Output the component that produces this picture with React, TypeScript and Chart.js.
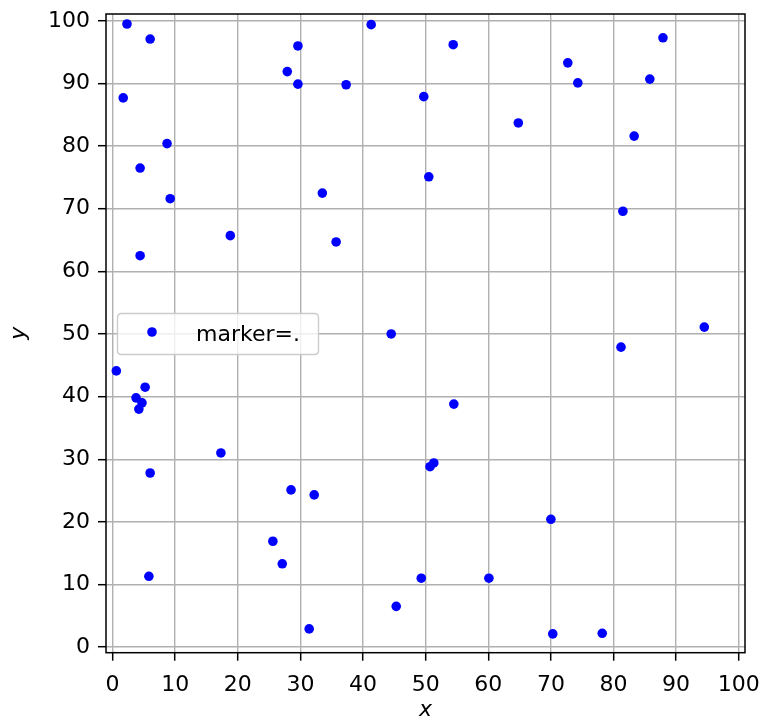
import React, { useEffect, useRef } from "react";
import { Chart, registerables } from "chart.js";

Chart.register(...registerables);

const xValues: number[] = [
  2.3, 6.0, 1.7, 8.7, 4.4, 9.2, 4.4, 18.8, 27.9, 29.6,
  29.6, 37.3, 41.3, 33.5, 35.7, 49.7, 54.4, 50.5, 64.8, 72.7,
  74.3, 87.9, 85.8, 83.3, 81.5, 94.5, 81.2, 44.5, 54.5, 0.6,
  5.2, 3.75, 4.7, 4.2, 6.0, 17.3, 28.5, 32.2, 50.7, 51.3,
  25.6, 27.1, 5.8, 31.4, 45.3, 49.3, 60.1, 70.0, 70.3, 78.2,
];
const yValues: number[] = [
  99.5, 97.1, 87.7, 80.4, 76.5, 71.6, 62.5, 65.7, 91.9, 96.0,
  89.9, 89.8, 99.4, 72.5, 64.7, 87.9, 96.2, 75.1, 83.7, 93.3,
  90.1, 97.3, 90.7, 81.6, 69.6, 51.1, 47.9, 50.0, 38.8, 44.1,
  41.5, 39.8, 39.0, 38.0, 27.8, 31.0, 25.1, 24.3, 28.8, 29.4,
  16.9, 13.3, 11.3, 2.9, 6.5, 11.0, 11.0, 20.4, 2.1, 2.2,
];
const tickValues: number[] = [0, 10, 20, 30, 40, 50, 60, 70, 80, 90, 100];
const seriesLabel = "marker=.";
const xTitle = "x";
const yTitle = "y";

const FONT = "'DejaVu Sans', sans-serif";

export default function App() {
  const ref = useRef<HTMLCanvasElement | null>(null);

  useEffect(() => {
    document.body.style.margin = "0";
    const canvas = ref.current;
    if (!canvas) return;

    const framePlugin = {
      id: "frameAndLegend",
      afterDatasetsDraw(chart: any) {
        const { ctx, chartArea } = chart;
        ctx.save();
        ctx.strokeStyle = "#000";
        ctx.lineWidth = 1.5;
        ctx.strokeRect(
          chartArea.left,
          chartArea.top,
          chartArea.right - chartArea.left,
          chartArea.bottom - chartArea.top
        );
        // legend
        const lx = 117.5, ly = 313.5, lw = 201, lh = 41, r = 4;
        ctx.beginPath();
        ctx.moveTo(lx + r, ly);
        ctx.lineTo(lx + lw - r, ly);
        ctx.quadraticCurveTo(lx + lw, ly, lx + lw, ly + r);
        ctx.lineTo(lx + lw, ly + lh - r);
        ctx.quadraticCurveTo(lx + lw, ly + lh, lx + lw - r, ly + lh);
        ctx.lineTo(lx + r, ly + lh);
        ctx.quadraticCurveTo(lx, ly + lh, lx, ly + lh - r);
        ctx.lineTo(lx, ly + r);
        ctx.quadraticCurveTo(lx, ly, lx + r, ly);
        ctx.closePath();
        ctx.fillStyle = "rgba(255,255,255,0.8)";
        ctx.fill();
        ctx.strokeStyle = "#cccccc";
        ctx.lineWidth = 1.4;
        ctx.stroke();
        ctx.beginPath();
        ctx.arc(152, 332, 4.8, 0, Math.PI * 2);
        ctx.fillStyle = "#0000ff";
        ctx.fill();
        ctx.fillStyle = "#000";
        ctx.font = `22px ${FONT}`;
        ctx.textBaseline = "alphabetic";
        ctx.textAlign = "left";
        ctx.fillText(seriesLabel, 196, 341);
        ctx.restore();
      },
    };

    const zeroPad = (scale: any) => {
      scale.paddingTop = 0;
      scale.paddingBottom = 0;
      scale.paddingLeft = 0;
      scale.paddingRight = 0;
    };

    const chart = new Chart(canvas, {
      type: "scatter",
      data: {
        datasets: [
          {
            label: seriesLabel,
            data: xValues.map((x, i) => ({ x, y: yValues[i] })),
            backgroundColor: "#0000ff",
            borderColor: "#0000ff",
            borderWidth: 0,
            pointRadius: 4.8,
            pointHoverRadius: 4.8,
          },
        ],
      },
      options: {
        responsive: false,
        animation: false,
        devicePixelRatio: 1,
        layout: { padding: { top: 14, right: 17, left: 0, bottom: 0 } },
        plugins: {
          legend: { display: false },
          tooltip: { enabled: false },
        },
        scales: {
          x: {
            type: "linear",
            min: -1.05,
            max: 101.0,
            afterBuildTicks: (scale: any) => {
              scale.ticks = tickValues.map((v) => ({ value: v }));
            },
            afterFit: (scale: any) => {
              scale.height = 70.3;
              zeroPad(scale);
            },
            border: { display: false },
            grid: {
              color: "#b0b0b0",
              lineWidth: 1.4,
              tickColor: "#000",
              tickLength: 8,
              tickWidth: 1.5,
            },
            ticks: {
              color: "#000",
              font: { family: FONT, size: 22 },
              padding: 11,
              maxRotation: 0,
              autoSkip: false,
            },
            title: {
              display: true,
              text: xTitle,
              color: "#000",
              font: { family: FONT, size: 22, style: "italic" },
              padding: { top: 0, bottom: 0 },
            },
          },
          y: {
            type: "linear",
            min: -0.9,
            max: 101.1,
            afterBuildTicks: (scale: any) => {
              scale.ticks = tickValues.map((v) => ({ value: v }));
            },
            afterFit: (scale: any) => {
              scale.width = 106;
              zeroPad(scale);
            },
            border: { display: false },
            grid: {
              color: "#b0b0b0",
              lineWidth: 1.4,
              tickColor: "#000",
              tickLength: 8,
              tickWidth: 1.5,
            },
            ticks: {
              color: "#000",
              font: { family: FONT, size: 22 },
              padding: 8,
              autoSkip: false,
            },
            title: {
              display: true,
              text: yTitle,
              color: "#000",
              font: { family: FONT, size: 22, style: "italic" },
              padding: { top: 6, bottom: 0 },
            },
          },
        },
      },
      plugins: [framePlugin],
    });

    return () => chart.destroy();
  }, []);

  return <canvas ref={ref} width={762} height={723} style={{ display: "block" }} />;
}
